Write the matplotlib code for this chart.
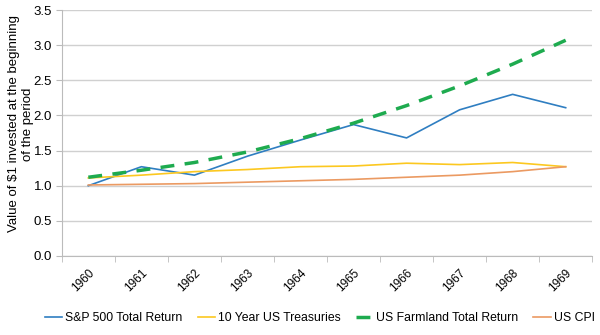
import numpy as np
import matplotlib
matplotlib.use("Agg")
import matplotlib.pyplot as plt

plt.rcParams["font.family"] = ["Liberation Sans", "DejaVu Sans"]

years = ["1960", "1961", "1962", "1963", "1964", "1965", "1966", "1967", "1968", "1969"]
sp500 = [1.00, 1.27, 1.15, 1.42, 1.65, 1.87, 1.68, 2.08, 2.30, 2.11]
treasuries = [1.11, 1.15, 1.20, 1.23, 1.27, 1.28, 1.32, 1.30, 1.33, 1.27]
farmland = [1.12, 1.22, 1.33, 1.48, 1.67, 1.89, 2.14, 2.42, 2.73, 3.07]
cpi = [1.01, 1.02, 1.03, 1.05, 1.07, 1.09, 1.12, 1.15, 1.20, 1.27]

colors = {
    "sp": "#2f7ec1",
    "tsy": "#fcc820",
    "farm": "#1eab4f",
    "cpi": "#eb9a62",
}

x = np.arange(len(years))

fig = plt.figure(figsize=(6, 3.35), dpi=100)
ax = fig.add_axes([0.103, 0.236, 0.884, 0.734])

ax.plot(x, sp500, color=colors["sp"], lw=1.2, label="S&P 500 Total Return")
ax.plot(x, treasuries, color=colors["tsy"], lw=1.2, label="10 Year US Treasuries")
ax.plot(x, farmland, color=colors["farm"], lw=2.5, dashes=(4, 3), label="US Farmland Total Return")
ax.plot(x, cpi, color=colors["cpi"], lw=1.2, label="US CPI")

ax.set_xlim(-0.5, len(years) - 0.5)
ax.set_ylim(0, 3.5)
ax.set_yticks(np.arange(0, 3.51, 0.5))
ax.set_yticklabels([f"{v:.1f}" for v in np.arange(0, 3.51, 0.5)], fontsize=9.5)
ax.set_xticks(x)
ax.set_xticklabels(years, rotation=45, fontsize=8.5, ha="right", rotation_mode="anchor")
ax.tick_params(axis="x", length=0, pad=8)
ax.set_xticks(np.arange(-0.5, len(years)), minor=True)
ax.tick_params(axis="x", which="minor", length=4, color="#bbbbbb")
ax.tick_params(axis="y", length=4, color="#bbbbbb", pad=3)

ax.grid(axis="y", color="#d0d0d0", lw=1)
ax.set_axisbelow(True)
for s in ["top", "right"]:
    ax.spines[s].set_visible(False)
for s in ["left", "bottom"]:
    ax.spines[s].set_color("#bbbbbb")

fig.text(0.035, 0.63, "Value of $1 invested at the beginning\nof the period",
         rotation=90, ha="center", va="center", fontsize=9.5, linespacing=1.3)

fig.legend(loc="center", bbox_to_anchor=(0.533, 0.05), ncol=4, frameon=False,
           fontsize=8.8, handlelength=1.4, handletextpad=0.25, columnspacing=1.25)

fig.savefig("out.png", dpi=100)
